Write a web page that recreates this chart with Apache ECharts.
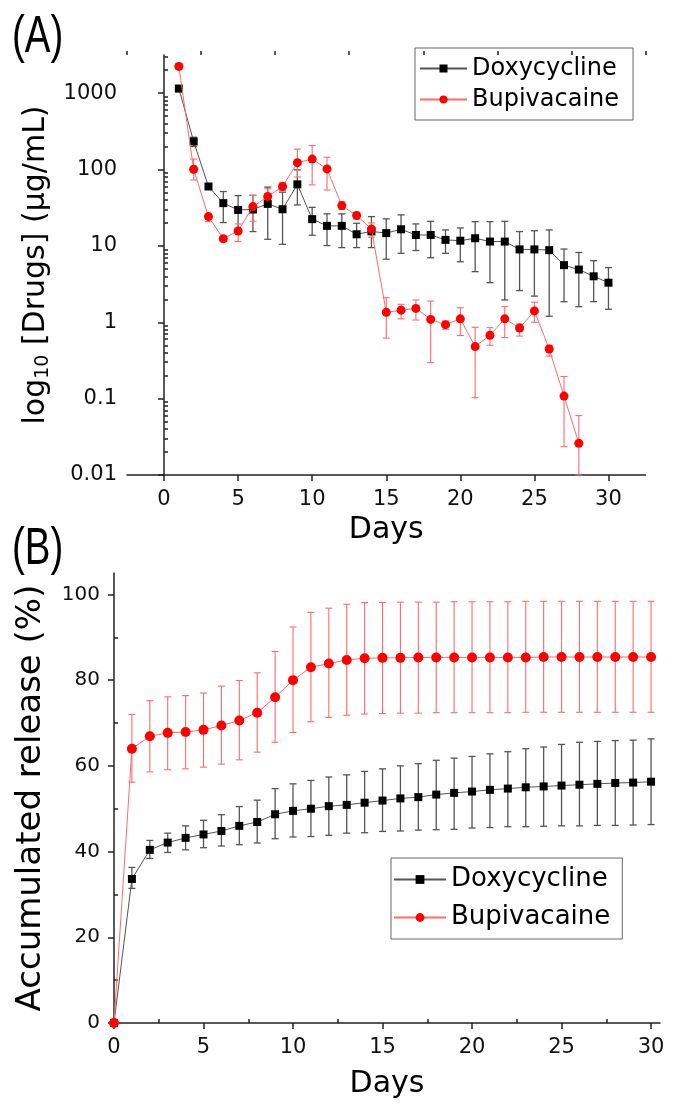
<!DOCTYPE html>
<html>
<head>
<meta charset="utf-8">
<script src="https://cdn.jsdelivr.net/npm/echarts@6/dist/echarts.min.js"></script>
<style>
  html, body { margin: 0; padding: 0; background: #fff; }
  #chart { width: 689px; height: 1119px; }
</style>
</head>
<body>
<div id="chart"></div>
<script>
// ---- panel A: daily release, log scale ----
const daysA = [1, 2, 3, 4, 5, 6, 7, 8, 9, 10, 11, 12, 13, 14, 15, 16, 17, 18, 19, 20, 21, 22, 23, 24, 25, 26, 27, 28, 29, 30];
const doxyA = [1150, 233, 60, 36.3, 29.6, 30, 35.5, 30.2, 64, 22.4, 18.3, 18.3, 14.2, 15.5, 14.7, 16.5, 13.9, 13.9, 12, 11.7, 12.6, 11.4, 11.4, 9.0, 9.0, 8.8, 5.6, 4.9, 4.0, 3.3];
const doxyALow = [1050, 200, 55, 20.2, 14.9, 15.4, 12.2, 10.5, 34.4, 13.8, 10.1, 9.5, 9.5, 9.5, 6.7, 8.0, 8.7, 7.0, 8.0, 6.2, 4.6, 3.3, 1.96, 2.6, 2.2, 1.2, 1.86, 1.6, 1.86, 1.48];
const doxyAHigh = [1250, 265, 65, 51.5, 45.6, 46, 58.9, 50.6, 99, 32, 26.3, 26.3, 19.8, 24.2, 22.6, 25.5, 19.4, 21, 16.2, 17.2, 20.8, 20.8, 21, 15.4, 15.8, 16.2, 9.1, 8.2, 6.4, 5.2];
const bupiA = [2240, 101, 24.2, 12.4, 15.7, 32.7, 44.3, 60, 123, 137, 102, 33.7, 25, 16.6, 1.35, 1.44, 1.52, 1.09, 0.93, 1.11, 0.48, 0.675, 1.11, 0.84, 1.41, 0.447, 0.108, 0.026];
const bupiALow = [2050, 73, 20.8, 11.5, 11.4, 21, 33, 53, 80, 63, 54, 30, 22.5, 13, 0.62, 1.11, 1.07, 0.296, 0.81, 0.67, 0.103, 0.5, 0.63, 0.66, 1.0, 0.36, 0.0235, 0.01];
const bupiAHigh = [2450, 137, 26, 13.4, 19.4, 45.7, 56, 68, 185, 206, 145, 38, 27.5, 20, 2.1, 1.72, 1.96, 1.9, 1.04, 1.55, 0.86, 0.85, 1.6, 0.95, 1.83, 0.5, 0.195, 0.06];
const logLabels = [0.01, 0.1, 1, 10, 100, 1000];
const logMinor = [0.02, 0.03, 0.04, 0.05, 0.06, 0.07, 0.08, 0.09, 0.2, 0.3, 0.4, 0.5, 0.6, 0.7, 0.8, 0.9,
  2, 3, 4, 5, 6, 7, 8, 9, 20, 30, 40, 50, 60, 70, 80, 90, 200, 300, 400, 500, 600, 700, 800, 900, 2000, 3000];

// ---- panel B: accumulated release ----
const daysB = [0, 1, 2, 3, 4, 5, 6, 7, 8, 9, 10, 11, 12, 13, 14, 15, 16, 17, 18, 19, 20, 21, 22, 23, 24, 25, 26, 27, 28, 29, 30];
const doxyB = [0, 33.6, 40.4, 42.1, 43.2, 44.0, 44.8, 46.0, 46.9, 48.7, 49.5, 50.0, 50.6, 50.9, 51.4, 51.9, 52.4, 52.7, 53.3, 53.7, 54.0, 54.4, 54.7, 55.0, 55.2, 55.4, 55.6, 55.8, 56.0, 56.1, 56.3];
const doxyBLow = [null, 31.4, 38.4, 39.8, 40.4, 40.9, 41.3, 41.6, 42.0, 43.0, 43.4, 43.5, 43.8, 44.3, 44.4, 44.7, 44.8, 45.0, 45.1, 45.2, 45.5, 45.6, 45.8, 45.8, 45.9, 46.0, 46.0, 46.1, 46.1, 46.2, 46.3];
const doxyBHigh = [null, 36.3, 42.6, 44.3, 46.0, 47.3, 48.6, 50.5, 52.0, 54.7, 55.8, 56.6, 57.4, 57.9, 58.7, 59.3, 60.0, 60.5, 61.3, 61.8, 62.2, 62.8, 63.3, 64.0, 64.4, 65.0, 65.5, 65.7, 65.9, 66.0, 66.3];
const bupiB = [0, 64.0, 66.9, 67.7, 67.9, 68.4, 69.4, 70.6, 72.4, 76.0, 80.0, 83.0, 83.9, 84.7, 85.1, 85.2, 85.2, 85.3, 85.3, 85.3, 85.3, 85.3, 85.3, 85.3, 85.4, 85.4, 85.4, 85.4, 85.4, 85.4, 85.4];
const bupiBLow = [null, 56.2, 58.6, 59.1, 59.3, 59.7, 60.4, 61.4, 63.2, 65.5, 67.8, 70.3, 71.3, 71.8, 72.1, 72.2, 72.3, 72.3, 72.4, 72.4, 72.4, 72.4, 72.4, 72.5, 72.5, 72.5, 72.5, 72.5, 72.5, 72.5, 72.5];
const bupiBHigh = [null, 72.0, 75.2, 76.1, 76.4, 77.0, 78.6, 79.9, 81.7, 86.7, 92.4, 95.8, 96.8, 97.7, 98.1, 98.1, 98.2, 98.2, 98.2, 98.3, 98.3, 98.3, 98.3, 98.4, 98.4, 98.4, 98.4, 98.4, 98.4, 98.4, 98.4];

const FONT = "DejaVu Sans";
const BLACK = "#000";
const RED = "#ff0000";
const GREY_LINE = "#555";
const RED_LINE = "#ff6b6b";

function pairs(xs, ys) {
  return xs.map((x, i) => [x, ys[i]]).filter(p => p[1] != null);
}
function bars(xs, lo, hi) {
  return xs.map((x, i) => [x, lo[i], hi[i]]).filter(r => r[1] != null && r[2] != null);
}

// draws one vertical error bar with caps
function errorBar(color, width) {
  return function (params, api) {
    const x = api.value(0);
    const top = api.coord([x, api.value(2)]);
    const bot = api.coord([x, api.value(1)]);
    const hw = 3.5;
    const style = { stroke: color, lineWidth: width };
    return {
      type: "group",
      children: [
        { type: "line", shape: { x1: top[0], y1: top[1], x2: bot[0], y2: bot[1] }, style: style },
        { type: "line", shape: { x1: top[0] - hw, y1: top[1], x2: top[0] + hw, y2: top[1] }, style: style },
        { type: "line", shape: { x1: bot[0] - hw, y1: bot[1], x2: bot[0] + hw, y2: bot[1] }, style: style }
      ]
    };
  };
}

const axisLineStyle = { show: true, lineStyle: { color: "#222", width: 1.5 } };
const tickLabel = { color: "#111", fontFamily: FONT, fontSize: 21 };

function range(a, b, step) {
  const out = [];
  for (let v = a; v <= b + 1e-9; v += step) out.push(+v.toFixed(3));
  return out;
}

const chart = echarts.init(document.getElementById("chart"));
chart.setOption({
  animation: false,
  backgroundColor: "#fff",
  graphic: [
    { type: "text", x: 12, y: 12, scaleX: 0.74, style: { text: "(A)", font: "52px 'Liberation Sans'", fill: "#000" } },
    { type: "text", x: 12, y: 524, scaleX: 0.74, style: { text: "(B)", font: "52px 'Liberation Sans'", fill: "#000" } }
  ],
  legend: [
    {
      data: ["Doxycycline", "Bupivacaine"],
      orient: "vertical",
      left: 415, top: 48,
      itemWidth: 47, itemHeight: 10, itemGap: 6,
      padding: [8, 14, 8, 4],
      borderColor: "#666", borderWidth: 1,
      textStyle: { fontFamily: FONT, fontSize: 24, color: "#000", lineHeight: 25 }
    },
    {
      data: ["Doxycycline", "Bupivacaine"],
      orient: "vertical",
      left: 391, top: 858,
      itemWidth: 52, itemHeight: 11, itemGap: 11,
      padding: [8, 12, 8, 2],
      borderColor: "#666", borderWidth: 1,
      textStyle: { fontFamily: FONT, fontSize: 26, color: "#000", lineHeight: 27 }
    }
  ],
  grid: [
    { left: 127, right: 43.5, top: 55, bottom: 644 },
    { left: 114, right: 29, top: 573, bottom: 96 }
  ],
  xAxis: [
    {
      gridIndex: 0, type: "value", min: -2.5, max: 32.5,
      name: "Days", nameLocation: "middle", nameGap: 40,
      nameTextStyle: { fontFamily: FONT, fontSize: 30, color: "#000" },
      axisLine: axisLineStyle, splitLine: { show: false },
      axisTick: { show: true, length: 6, lineStyle: { color: "#222", width: 1.5 }, customValues: range(0, 30, 5) },
      axisLabel: Object.assign({ margin: 14, customValues: range(0, 30, 5) }, tickLabel)
    },
    {
      gridIndex: 0, type: "value", min: -2.5, max: 32.5,
      axisLine: { show: false }, splitLine: { show: false }, axisLabel: { show: false },
      axisTick: { show: true, length: 4, lineStyle: { color: "#222", width: 1.5 }, customValues: range(-2.5, 32.5, 5) }
    },
    {
      gridIndex: 1, type: "value", min: 0, max: 30.5,
      name: "Days", nameLocation: "middle", nameGap: 46,
      nameTextStyle: { fontFamily: FONT, fontSize: 30, color: "#000" },
      axisLine: axisLineStyle, splitLine: { show: false },
      axisTick: { show: true, length: 6, lineStyle: { color: "#222", width: 1.5 }, customValues: range(0, 30, 5) },
      axisLabel: Object.assign({ margin: 14, customValues: range(0, 30, 5) }, tickLabel)
    },
    {
      gridIndex: 1, type: "value", min: 0, max: 30.5,
      axisLine: { show: false }, splitLine: { show: false }, axisLabel: { show: false },
      axisTick: { show: true, length: 4, lineStyle: { color: "#222", width: 1.5 }, customValues: range(2.5, 27.5, 5) }
    }
  ],
  yAxis: [
    {
      gridIndex: 0, type: "log", logBase: 10, min: 0.01, max: 3162,
      name: "{a|log}{s|10}{a| [Drugs] (µg/mL)}", nameLocation: "middle", nameGap: 72, nameRotate: 90,
      nameTextStyle: {
        rich: {
          a: { fontFamily: FONT, fontSize: 30, color: "#000" },
          s: { fontFamily: FONT, fontSize: 19, color: "#000", padding: [13, 0, 0, 0] }
        }
      },
      axisLine: axisLineStyle, splitLine: { show: false },
      axisTick: { show: true, length: 6, lineStyle: { color: "#222", width: 1.5 }, customValues: logLabels },
      axisLabel: Object.assign({ margin: 10, customValues: logLabels, formatter: v => String(+(+v).toPrecision(3)) }, tickLabel)
    },
    {
      gridIndex: 0, type: "log", logBase: 10, min: 0.01, max: 3162,
      axisLine: { show: false }, splitLine: { show: false }, axisLabel: { show: false },
      axisTick: { show: true, length: 4, lineStyle: { color: "#222", width: 1.5 }, customValues: logMinor }
    },
    {
      gridIndex: 1, type: "value", min: 0, max: 105,
      name: "Accumulated release (%)", nameLocation: "middle", nameGap: 66, nameRotate: 90,
      nameTextStyle: { fontFamily: FONT, fontSize: 34, color: "#000" },
      axisLine: axisLineStyle, splitLine: { show: false },
      axisTick: { show: true, length: 6, lineStyle: { color: "#222", width: 1.5 }, customValues: range(0, 100, 20) },
      axisLabel: Object.assign({ margin: 14, customValues: range(0, 100, 20) }, tickLabel, { fontSize: 20 })
    },
    {
      gridIndex: 1, type: "value", min: 0, max: 105,
      axisLine: { show: false }, splitLine: { show: false }, axisLabel: { show: false },
      axisTick: { show: true, length: 4, lineStyle: { color: "#222", width: 1.5 }, customValues: range(10, 90, 20) }
    }
  ],
  series: [
    // panel A
    {
      type: "custom", xAxisIndex: 0, yAxisIndex: 0, z: 1,
      renderItem: errorBar("#555", 1.3), encode: { x: 0, y: [1, 2] },
      data: bars(daysA, doxyALow, doxyAHigh)
    },
    {
      type: "custom", xAxisIndex: 0, yAxisIndex: 0, z: 1,
      renderItem: errorBar(RED_LINE, 1.1), encode: { x: 0, y: [1, 2] },
      data: bars(daysA.slice(0, bupiA.length), bupiALow, bupiAHigh)
    },
    {
      name: "Doxycycline", type: "line", xAxisIndex: 0, yAxisIndex: 0, z: 3,
      symbol: "rect", symbolSize: 8,
      itemStyle: { color: BLACK }, lineStyle: { color: GREY_LINE, width: 1 },
      data: pairs(daysA, doxyA)
    },
    {
      name: "Bupivacaine", type: "line", xAxisIndex: 0, yAxisIndex: 0, z: 4,
      symbol: "circle", symbolSize: 9,
      itemStyle: { color: RED }, lineStyle: { color: RED_LINE, width: 1 },
      data: pairs(daysA, bupiA)
    },
    // panel B
    {
      type: "custom", xAxisIndex: 2, yAxisIndex: 2, z: 1,
      renderItem: errorBar("#555", 1.3), encode: { x: 0, y: [1, 2] },
      data: bars(daysB, doxyBLow, doxyBHigh)
    },
    {
      type: "custom", xAxisIndex: 2, yAxisIndex: 2, z: 1,
      renderItem: errorBar(RED_LINE, 1.1), encode: { x: 0, y: [1, 2] },
      data: bars(daysB, bupiBLow, bupiBHigh)
    },
    {
      name: "Doxycycline", type: "line", xAxisIndex: 2, yAxisIndex: 2, z: 3,
      symbol: "rect", symbolSize: 8,
      itemStyle: { color: BLACK }, lineStyle: { color: GREY_LINE, width: 1 },
      data: pairs(daysB, doxyB)
    },
    {
      name: "Bupivacaine", type: "line", xAxisIndex: 2, yAxisIndex: 2, z: 4,
      symbol: "circle", symbolSize: 10,
      itemStyle: { color: RED }, lineStyle: { color: RED_LINE, width: 1 },
      data: pairs(daysB, bupiB)
    }
  ]
});
</script>
</body>
</html>
